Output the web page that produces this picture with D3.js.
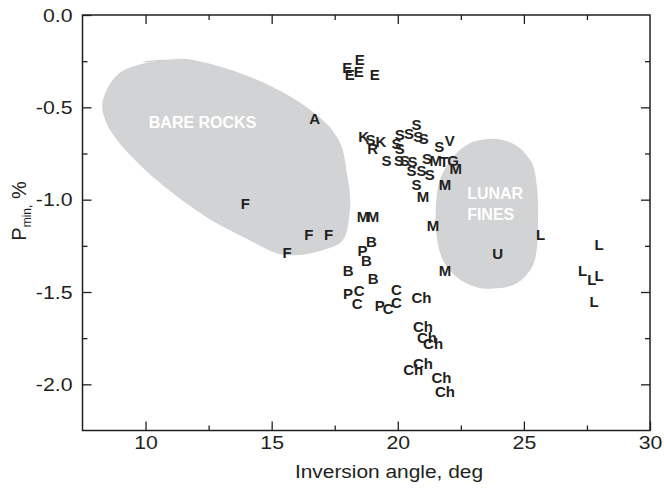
<!DOCTYPE html>
<html><head><meta charset="utf-8">
<script src="https://cdn.jsdelivr.net/npm/d3@7"></script>
<style>body{margin:0;background:#fff}</style>
</head><body><svg id="c" width="664" height="492"></svg>
<script>
// ---- data ----
const xMajorTicks = [10, 15, 20, 25, 30];
const xMinorTicks = [12.5, 17.5, 22.5, 27.5];
const yMajorTicks = [0, -0.5, -1.0, -1.5, -2.0];
const yMinorTicks = [-0.25, -0.75, -1.25, -1.75];

const pointLabels = [
  "E","E","E","E","E",
  "A",
  "F","F","F","F",
  "K","S","K","R",
  "S","S","S","S","S","S","S","S","S","S","S","S","S",
  "V","M","T","G","M",
  "S","S","S","S","M","M",
  "M","M","M","M",
  "B","P","B","B","B",
  "P","C","C","P","C","C","C","Ch",
  "Ch","Ch","Ch","Ch","Ch","Ch","Ch",
  "U","L","L","L","L","L","L"
];
const pointX = [
  18.49, 18.0, 18.10, 18.45, 19.09,
  16.71,
  13.96, 16.47, 17.26, 15.61,
  18.65, 18.92, 19.33, 19.0,
  20.74, 20.45, 20.08, 20.81, 21.03, 19.95, 20.08, 19.55, 20.05, 20.28, 20.58, 21.16, 21.64,
  22.06, 21.51, 21.84, 22.19, 22.30,
  20.54, 20.94, 21.27, 20.74, 21.87, 21.0,
  18.62, 19.02, 21.40, 21.87,
  18.96, 18.60, 18.76, 18.03, 19.02,
  18.03, 18.47, 18.39, 19.29, 19.62, 19.95, 19.95, 20.94,
  21.0, 21.16, 21.40, 21.0, 20.61, 21.73, 21.87,
  23.96, 25.66, 27.98, 27.33, 27.69, 27.98, 27.78
];
const pointY = [
  -0.239, -0.283, -0.321, -0.304, -0.321,
  -0.561,
  -1.02, -1.187, -1.187, -1.286,
  -0.656, -0.674, -0.688, -0.721,
  -0.591, -0.641, -0.647, -0.656, -0.668, -0.695, -0.722, -0.791, -0.790, -0.786, -0.795, -0.777, -0.714,
  -0.681, -0.786, -0.795, -0.790, -0.831,
  -0.844, -0.844, -0.862, -0.916, -0.921, -0.985,
  -1.093, -1.089, -1.138, -1.382,
  -1.229, -1.274, -1.328, -1.382, -1.427,
  -1.508, -1.490, -1.563, -1.572, -1.590, -1.559, -1.487, -1.530,
  -1.689, -1.747, -1.780, -1.888, -1.919, -1.964, -2.042,
  -1.292, -1.187, -1.241, -1.386, -1.433, -1.409, -1.550
];

const bareRocksX = [8.29, 8.45, 8.97, 10.44, 12.42, 14.13, 15.20, 15.99, 17.02, 17.82, 18.10, 18.10, 17.98, 17.78, 17.30, 16.39, 15.04, 13.73, 12.42, 11.23, 8.97];
const bareRocksY = [-0.477, -0.585, -0.694, -0.894, -1.095, -1.220, -1.290, -1.301, -1.274, -1.220, -1.057, -0.965, -0.856, -0.715, -0.607, -0.499, -0.390, -0.314, -0.260, -0.238, -0.314];
const lunarFinesX = [23.73, 22.86, 22.18, 21.67, 21.51, 21.55, 21.79, 22.34, 23.13, 23.93, 24.72, 25.32, 25.52, 25.56, 25.52, 25.32, 24.84, 24.33];
const lunarFinesY = [-0.672, -0.694, -0.770, -0.894, -1.041, -1.203, -1.328, -1.420, -1.474, -1.480, -1.453, -1.366, -1.257, -1.111, -0.932, -0.802, -0.721, -0.683];

// ---- chart ----
const L = 82.5, R = 650, T = 15, B = 430.5;
const FONT = "'Liberation Sans', Arial, Helvetica, sans-serif";
const INK = "#231f20";
const STRETCH = 1.12;
const svg = d3.select("#c");

const x = d3.scaleLinear().domain([7.5, 30]).range([L, R]);
const y = d3.scaleLinear().domain([-2.25, 0]).range([B, T]);

// blobs
const blobLine = d3.line().x(d => x(d[0])).y(d => y(d[1])).curve(d3.curveCatmullRomClosed.alpha(0.5));
svg.append("path").attr("d", blobLine(d3.zip(bareRocksX, bareRocksY))).attr("fill", "#d1d3d4");
svg.append("path").attr("d", blobLine(d3.zip(lunarFinesX, lunarFinesY))).attr("fill", "#d1d3d4");
svg.append("line").attr("x1", x(9.96)).attr("y1", y(-0.253)).attr("x2", x(10.75)).attr("y2", y(-0.244))
  .attr("stroke", "#c8c9cb").attr("stroke-width", 1);

// blob texts
svg.append("text").attr("x", x(12.26)).attr("y", y(-0.612)).attr("text-anchor", "middle")
  .attr("font-family", FONT).attr("font-weight", "bold").attr("font-size", 16).attr("fill", "#fff")
  .text("BARE ROCKS");
svg.append("text").attr("x", x(22.75)).attr("y", y(-0.997)).attr("font-family", FONT).attr("font-weight", "bold")
  .attr("font-size", 16).attr("fill", "#fff").text("LUNAR");
svg.append("text").attr("x", x(22.75)).attr("y", y(-1.111)).attr("font-family", FONT).attr("font-weight", "bold")
  .attr("font-size", 16).attr("fill", "#fff").text("FINES");

// axes
function styleAxis(g) {
  g.select(".domain").remove();
  g.selectAll("line").attr("stroke", INK).attr("stroke-width", 1.3);
  g.selectAll("text").attr("font-family", FONT).attr("font-size", 19).attr("fill", INK)
    .each(function () {
      const t = d3.select(this);
      const tx = +t.attr("x") || 0, ty = +t.attr("y") || 0;
      t.attr("x", null).attr("y", null).attr("transform", `translate(${tx},${ty}) scale(${STRETCH},1)`)
        .text(t.text().replace("\u2212", "-"));
    });
}
svg.append("g").attr("transform", `translate(0,${B})`)
  .call(d3.axisBottom(x).tickValues(xMajorTicks).tickSize(-9).tickPadding(5).tickFormat(d3.format("d"))).call(styleAxis);
svg.append("g").attr("transform", `translate(0,${B})`)
  .call(d3.axisBottom(x).tickValues(xMinorTicks).tickSize(-5).tickFormat("")).call(styleAxis);
svg.append("g").attr("transform", `translate(0,${T})`)
  .call(d3.axisTop(x).tickValues(xMajorTicks.slice(0, -1)).tickSize(-9).tickFormat("")).call(styleAxis);
svg.append("g").attr("transform", `translate(0,${T})`)
  .call(d3.axisTop(x).tickValues(xMinorTicks).tickSize(-5).tickFormat("")).call(styleAxis);
svg.append("g").attr("transform", `translate(${L},0)`)
  .call(d3.axisLeft(y).tickValues(yMajorTicks).tickSize(-9).tickPadding(10).tickFormat(d3.format(".1f"))).call(styleAxis);
svg.append("g").attr("transform", `translate(${L},0)`)
  .call(d3.axisLeft(y).tickValues(yMinorTicks).tickSize(-5).tickFormat("")).call(styleAxis);
svg.append("g").attr("transform", `translate(${R},0)`)
  .call(d3.axisRight(y).tickValues(yMajorTicks.slice(1)).tickSize(-9).tickFormat("")).call(styleAxis);
svg.append("g").attr("transform", `translate(${R},0)`)
  .call(d3.axisRight(y).tickValues(yMinorTicks).tickSize(-5).tickFormat("")).call(styleAxis);

svg.append("rect").attr("x", L).attr("y", T).attr("width", R - L).attr("height", B - T)
  .attr("fill", "none").attr("stroke", INK).attr("stroke-width", 1.5);

// point labels
svg.append("g").selectAll("text").data(d3.range(pointLabels.length)).join("text")
  .attr("x", i => x(pointX[i])).attr("y", i => y(pointY[i])).attr("dy", "0.36em")
  .attr("text-anchor", "middle").attr("font-family", FONT).attr("font-weight", "bold")
  .attr("font-size", 15).attr("fill", INK).text(i => pointLabels[i]);

// axis titles
svg.append("text").attr("transform", "translate(389,478) scale(1.1,1)").attr("text-anchor", "middle")
  .attr("font-family", FONT).attr("font-size", 19).attr("fill", INK).text("Inversion angle, deg");
const yt = svg.append("text").attr("transform", "translate(26,211) rotate(-90)").attr("text-anchor", "middle")
  .attr("font-family", FONT).attr("font-size", 20).attr("fill", INK);
yt.append("tspan").text("P");
yt.append("tspan").attr("font-size", 12).attr("dy", 5).text("min,");
yt.append("tspan").attr("dy", -5).text(" %");
</script></body></html>
